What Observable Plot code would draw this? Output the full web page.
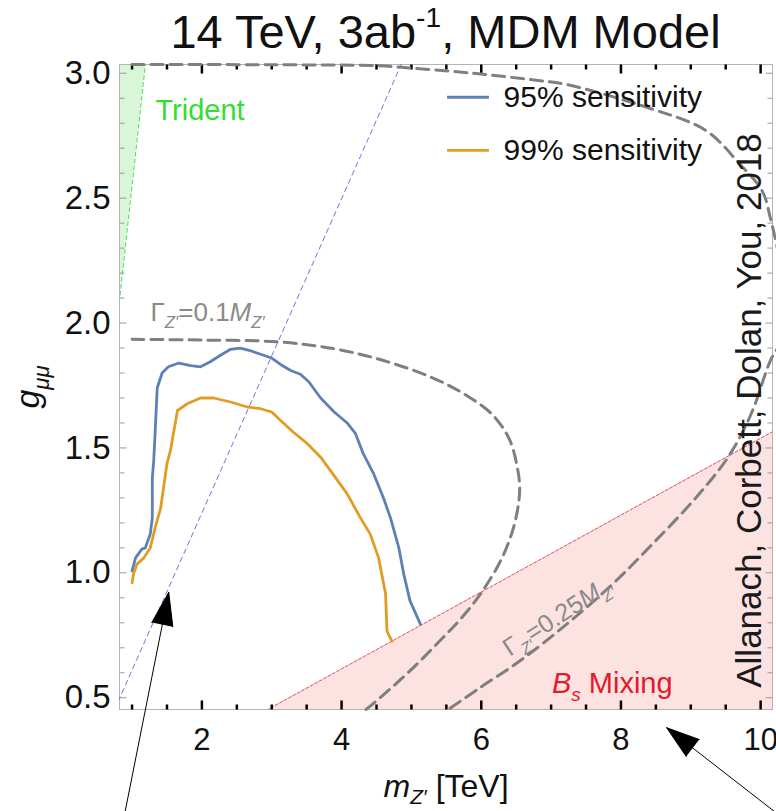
<!DOCTYPE html>
<html><head><meta charset="utf-8">
<script src="https://cdn.jsdelivr.net/npm/d3@7"></script>
<script src="https://cdn.jsdelivr.net/npm/@observablehq/plot@0.6"></script>
<style>
body{margin:0;background:#fff;}
#wrap{position:relative;width:776px;height:811px;overflow:hidden;background:#fff;font-family:"Liberation Sans",Arial,sans-serif;}
#title{position:absolute;top:8px;left:119px;width:653px;text-align:center;font-size:47px;line-height:1;color:#111;white-space:nowrap;}
#title sup{font-size:0.6em;position:relative;top:-0.75em;vertical-align:baseline;line-height:0;}
#chart{position:absolute;top:60px;left:0;}
</style></head><body>
<div id="wrap"><div id="title">14 TeV, 3ab<sup>-1</sup>, MDM Model</div><div id="chart"></div></div>
<script>
// ---------- data ----------
const seriesNames = ["95% sensitivity", "99% sensitivity"];
const seriesColors = ["#5e81b5", "#e19c24"];

const m95 = [1.00,1.05,1.14,1.19,1.26,1.29,1.29,1.31,1.33,1.36,1.43,1.52,1.67,1.84,1.98,2.12,2.26,2.41,2.55,2.69,2.84,3.00,3.15,3.27,3.41,3.53,3.70,3.89,4.08,4.20,4.31,4.46,4.60,4.70,4.82,4.89,4.98,5.13];
const g95 = [1.008,1.06,1.095,1.10,1.155,1.22,1.38,1.45,1.56,1.74,1.80,1.825,1.84,1.83,1.825,1.845,1.87,1.895,1.90,1.89,1.875,1.86,1.83,1.81,1.795,1.765,1.70,1.645,1.60,1.557,1.477,1.396,1.30,1.22,1.10,0.995,0.888,0.794];

const m99 = [1.00,1.02,1.07,1.17,1.26,1.33,1.41,1.45,1.50,1.55,1.60,1.65,1.79,1.98,2.17,2.41,2.65,2.84,3.00,3.15,3.31,3.51,3.70,3.89,4.08,4.27,4.41,4.53,4.63,4.65,4.72];
const g99 = [0.96,0.995,1.035,1.06,1.10,1.18,1.26,1.34,1.437,1.49,1.57,1.65,1.677,1.70,1.70,1.684,1.664,1.657,1.644,1.604,1.563,1.517,1.463,1.39,1.316,1.22,1.155,1.06,0.915,0.767,0.727];

// width contours Gamma = 0.1 M and Gamma = 0.25 M
const mW10 = [1.00,1.98,3.07,3.88,4.60,5.31,5.79,6.17,6.41,6.53,6.55,6.53,6.45,6.28,6.00,5.75,5.45,4.95,4.55,4.35];
const gW10 = [1.935,1.932,1.925,1.898,1.85,1.78,1.71,1.63,1.53,1.40,1.34,1.27,1.17,1.05,0.92,0.83,0.74,0.60,0.50,0.453];
const mW25 = [1.00,3.00,4.50,4.94,5.88,6.84,7.22,8.41,9.22,9.69,10.02,10.14,10.30,10.34,10.28,10.14,9.87,9.55,9.07,8.45,7.88,7.22,6.55,5.98,5.53];
const gW25 = [3.035,3.034,3.03,3.022,3.00,2.97,2.955,2.86,2.77,2.64,2.53,2.42,2.20,2.00,1.92,1.85,1.64,1.47,1.30,1.115,0.955,0.794,0.647,0.54,0.453];

// exclusion boundaries
const bsM = [2.80, 10.30];
const bsG = [0.431, 1.585];
const tridentM = [0.784, 1.216];
const tridentG = [2.00, 3.10];
const diagM = [0.80, 4.90];
const diagG = [0.485, 3.064];

// axes ticks
const xMajor = [2, 4, 6, 8, 10];
const xMinor = [1, 1.5, 2.5, 3, 3.5, 4.5, 5, 5.5, 6.5, 7, 7.5, 8.5, 9, 9.5];
const yMajor = [0.5, 1.0, 1.5, 2.0, 2.5, 3.0];
const yMinor = [0.6,0.7,0.8,0.9,1.1,1.2,1.3,1.4,1.6,1.7,1.8,1.9,2.1,2.2,2.3,2.4,2.6,2.7,2.8,2.9];

// annotation arrows (data coordinates, extending below the frame)
const arrowFromM = [0.898, 10.233];
const arrowFromG = [0.041, 0.037];
const arrowToM = [1.525, 8.655];
const arrowToG = [0.922, 0.380];

// ---------- layout (positions of annotations) ----------
const ann = {
  legendX1: 5.51, legendX2: 6.11, legendTextX: 6.32, legendG: [2.904, 2.691],
  trident: {m: 1.335, g: 2.811},
  w10: {m: 1.263, g: 2.010},
  w25: {m: 7.09, g: 0.825},
  bs: {m: 7.876, g: 0.521},
  credit: {m: 9.84, g: 1.65}
};

const zip = (ms, gs) => ms.map((m, i) => ({m, g: gs[i]}));
const s95 = zip(m95, g95), s99 = zip(m99, g99);
const w10 = zip(mW10, gW10), w25 = zip(mW25, gW25);
const bs = zip(bsM, bsG), trident = zip(tridentM, tridentG), diag = zip(diagM, diagG);
const arrows = arrowFromM.map((d, i) => ({x1: d, y1: arrowFromG[i], x2: arrowToM[i], y2: arrowToG[i]}));
const legend = seriesNames.map((n, i) => ({name: n, color: seriesColors[i], g: ann.legendG[i]}));

const tick = (dx, dy) => ({draw(c) { c.moveTo(0, 0); c.lineTo(dx, dy); }});
const FONT = "Liberation Sans, Arial, sans-serif";
const gray = "#7f7f7f";

const plot = Plot.plot({
  width: 776, height: 751,
  marginLeft: 119, marginRight: 4, marginTop: 4, marginBottom: 102,
  style: {fontFamily: FONT, background: "transparent", overflow: "visible"},
  x: {domain: [0.82, 10.17]},
  y: {domain: [0.453, 3.035]},
  marks: [
    Plot.areaY(bs, {x: "m", y1: 0.3, y2: "g", fill: "#fde2e2", clip: true}),
    Plot.areaX(trident, {y: "g", x1: 0.6, x2: "m", fill: "#d9f6d9", clip: true}),
    Plot.line(bs, {x: "m", y: "g", stroke: "#e8506a", strokeWidth: 1, strokeDasharray: "3,2", clip: true}),
    Plot.line(trident, {x: "m", y: "g", stroke: "#4ddd4d", strokeWidth: 1, strokeDasharray: "4,3", clip: true}),
    Plot.frame({stroke: "#b4b4b4", strokeWidth: 1}),
    Plot.dot(xMajor, {x: d => d, frameAnchor: "bottom", symbol: tick(0, -9), r: 1, stroke: "#000", fill: "none", strokeWidth: 2.5}),
    Plot.dot(xMinor, {x: d => d, frameAnchor: "bottom", symbol: tick(0, -5), r: 1, stroke: "#000", fill: "none", strokeWidth: 2.5}),
    Plot.dot(xMajor, {x: d => d, frameAnchor: "top", symbol: tick(0, 9), r: 1, stroke: "#000", fill: "none", strokeWidth: 2.5}),
    Plot.dot(xMinor, {x: d => d, frameAnchor: "top", symbol: tick(0, 5), r: 1, stroke: "#000", fill: "none", strokeWidth: 2.5}),
    Plot.dot(yMajor, {y: d => d, frameAnchor: "left", symbol: tick(7, 0), r: 1, stroke: "#999", fill: "none", strokeWidth: 1}),
    Plot.dot(yMinor, {y: d => d, frameAnchor: "left", symbol: tick(5, 0), r: 1, stroke: "#999", fill: "none", strokeWidth: 1}),
    Plot.dot(yMajor, {y: d => d, frameAnchor: "right", symbol: tick(-7, 0), r: 1, stroke: "#999", fill: "none", strokeWidth: 1}),
    Plot.dot(yMinor, {y: d => d, frameAnchor: "right", symbol: tick(-5, 0), r: 1, stroke: "#999", fill: "none", strokeWidth: 1}),
    Plot.line(diag, {x: "m", y: "g", stroke: "#7272e8", strokeWidth: 1, strokeDasharray: "5,4", clip: true}),
    Plot.line(w10, {x: "m", y: "g", stroke: gray, strokeWidth: 3, strokeDasharray: "12,7", curve: "catmull-rom"}),
    Plot.line(w25, {x: "m", y: "g", stroke: gray, strokeWidth: 3, strokeDasharray: "12,7", curve: "catmull-rom"}),
    Plot.line(s95, {x: "m", y: "g", stroke: seriesColors[0], strokeWidth: 2.8}),
    Plot.line(s99, {x: "m", y: "g", stroke: seriesColors[1], strokeWidth: 2.8}),
    // legend
    Plot.link(legend, {x1: ann.legendX1, x2: ann.legendX2, y1: "g", y2: "g", stroke: "color", strokeWidth: 2.8}),
    Plot.text(legend, {x: ann.legendTextX, y: "g", text: "name", textAnchor: "start", lineAnchor: "middle", fontSize: 30, fill: "#111", fontFamily: FONT}),
    // region labels
    Plot.text(["Trident"], {x: ann.trident.m, y: ann.trident.g, text: d => d, textAnchor: "start", lineAnchor: "bottom", fontSize: 29, fill: "#33dd33", fontFamily: FONT}),
    Plot.text(["Γ=0.1M"], {x: ann.w10.m, y: ann.w10.g, text: d => d, textAnchor: "start", lineAnchor: "bottom", fontSize: 26, fill: "#8a8a8a", fontFamily: FONT}),
    Plot.text(["Γ=0.25M"], {x: ann.w25.m, y: ann.w25.g, text: d => d, textAnchor: "middle", lineAnchor: "middle", rotate: -33, fontSize: 25, fill: "#8a8a8a", fontFamily: FONT}),
    Plot.text(["Bs Mixing"], {x: ann.bs.m, y: ann.bs.g, text: d => d, textAnchor: "middle", lineAnchor: "bottom", fontSize: 29, fill: "#e31a2a", fontFamily: FONT}),
    Plot.text(["Allanach, Corbett, Dolan, You, 2018"], {x: ann.credit.m, y: ann.credit.g, text: d => d, textAnchor: "middle", lineAnchor: "middle", rotate: -90, fontSize: 35, fill: "#1a1a1a", fontFamily: FONT}),
    // axes
    Plot.axisX({ticks: xMajor, tickSize: 0, tickPadding: 18, fontSize: 31, label: null, tickFormat: d => String(d), fill: "#111"}),
    Plot.axisY({ticks: yMajor, tickSize: 0, tickPadding: 9, fontSize: 33, label: null, tickFormat: d3.format(".1f"), fill: "#111"}),
    Plot.text(["m [TeV]"], {frameAnchor: "bottom", dy: 87, text: d => d, textAnchor: "middle", lineAnchor: "bottom", fontSize: 32, fill: "#111", fontFamily: FONT}),
    Plot.text(["gμμ"], {frameAnchor: "left", dx: -91, text: d => d, rotate: -90, textAnchor: "middle", lineAnchor: "middle", fontSize: 34, fill: "#111", fontFamily: FONT}),
    // annotation arrows
    Plot.arrow(arrows, {x1: "x1", y1: "y1", x2: "x2", y2: "y2", stroke: "#000", fill: "#000", strokeWidth: 1, headLength: 52, headAngle: 36})
  ]
});

document.getElementById("chart").appendChild(plot);

// rich text (italics and subscripts), matched by plain text content
const NS = "http://www.w3.org/2000/svg";
const richParts = new Map([
  ["m [TeV]", {fs: 32, sub: 0.22, parts: [{t: "m", i: 1}, {t: "Z′", i: 1, sub: 1}, {t: " [TeV]"}]}],
  ["gμμ", {fs: 34, sub: 0.28, parts: [{t: "g", i: 1}, {t: "μμ", i: 1, sub: 1}]}],
  ["Γ=0.1M", {fs: 26, sub: 0.28, parts: [{t: "Γ"}, {t: "Z′", i: 1, sub: 1}, {t: "=0.1"}, {t: "M", i: 1}, {t: "Z′", i: 1, sub: 1}]}],
  ["Γ=0.25M", {fs: 25, sub: 0.28, parts: [{t: "Γ"}, {t: "Z′", i: 1, sub: 1}, {t: "=0.25"}, {t: "M", i: 1}, {t: "Z′", i: 1, sub: 1}]}],
  ["Bs Mixing", {fs: 29, sub: 0.28, parts: [{t: "B", i: 1}, {t: "s", i: 1, sub: 1}, {t: " Mixing"}]}]
]);
plot.querySelectorAll("text").forEach(t => {
  const spec = richParts.get(t.textContent);
  if (!spec) return;
  const fs = spec.fs;
  t.textContent = "";
  let shift = 0;
  for (const p of spec.parts) {
    const ts = document.createElementNS(NS, "tspan");
    ts.textContent = p.t;
    if (p.i) ts.setAttribute("font-style", "italic");
    const target = p.sub ? spec.sub * fs : 0;
    if (target !== shift) { ts.setAttribute("dy", target - shift); shift = target; }
    if (p.sub) ts.setAttribute("font-size", 0.65 * fs);
    t.appendChild(ts);
  }
});
</script>
</body></html>
